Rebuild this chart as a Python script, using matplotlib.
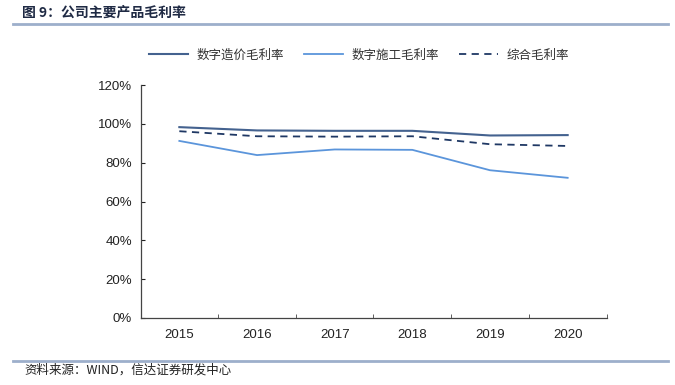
import matplotlib
matplotlib.use('Agg')
import matplotlib.pyplot as plt
from matplotlib.lines import Line2D

plt.rcParams['font.family'] = ['Liberation Sans', 'Noto Sans CJK SC', 'DejaVu Sans']

# 数据
anios = ['2015', '2016', '2017', '2018', '2019', '2020']
zaojia = [98.3, 96.6, 96.4, 96.4, 94.0, 94.2]     # 数字造价毛利率
shigong = [91.2, 83.9, 86.8, 86.6, 76.1, 72.2]    # 数字施工毛利率
zonghe = [96.2, 93.6, 93.4, 93.6, 89.5, 88.6]     # 综合毛利率
yticks = [0, 20, 40, 60, 80, 100, 120]

fig = plt.figure(figsize=(6.75, 3.85), dpi=100)
ax = fig.add_axes([140.5 / 675, 1 - 318 / 385, (606.5 - 140.5) / 675, (318 - 85) / 385])

x = list(range(len(anios)))
ax.plot(x, zaojia, color='#44628F', lw=1.5, label='数字造价毛利率')
ax.plot(x, shigong, color='#5B95DB', lw=1.3, label='数字施工毛利率')
ax.plot(x, zonghe, color='#1F3864', lw=1.3, ls=(0, (4, 3)), label='综合毛利率')

ax.set_xlim(-0.5, len(anios) - 0.5)
ax.set_ylim(0, 120)
ax.set_yticks(yticks)
ax.set_yticklabels([f'{v}%' for v in yticks])
ax.set_xticks(x)
ax.set_xticklabels(anios)
ax.set_xticks([i - 0.5 for i in range(len(anios) + 1)], minor=True)
ax.tick_params(axis='x', which='major', length=0, pad=8, labelsize=9.5, colors='#222222')
ax.tick_params(axis='x', which='minor', direction='in', length=3, color='#444444')
ax.tick_params(axis='y', direction='in', length=3, pad=6, labelsize=9.5, colors='#222222')
for s in ['top', 'right']:
    ax.spines[s].set_visible(False)
for s in ['left', 'bottom']:
    ax.spines[s].set_color('#444444')
    ax.spines[s].set_linewidth(0.9)

handles, labels = ax.get_legend_handles_labels()
leg = fig.legend(handles, labels, loc='center', bbox_to_anchor=(359 / 675, 1 - 55 / 385),
                 ncol=3, frameon=False, handlelength=3.1, handletextpad=0.7,
                 columnspacing=1.6, prop={'family': ['Noto Sans CJK SC'], 'size': 9})
for t in leg.get_texts():
    t.set_color('#333333')

# 标题与来源
fig.text(22 / 675, 1 - 13 / 385, '图 9：公司主要产品毛利率', fontsize=10, fontweight='bold',
         color='#1F2A44', family=['Noto Sans CJK SC'], va='center', ha='left')
fig.add_artist(Line2D([13 / 675, 668 / 675], [1 - 23.5 / 385] * 2, color='#9DAFCB', lw=2))
fig.add_artist(Line2D([13 / 675, 668 / 675], [1 - 360.5 / 385] * 2, color='#9DAFCB', lw=2))
fig.text(24 / 675, 1 - 370 / 385, '资料来源：WIND，信达证券研发中心', fontsize=9, style='italic',
         color='#222222', family=['Noto Sans CJK SC'], va='center', ha='left')

fig.savefig('out.png', dpi=100)
